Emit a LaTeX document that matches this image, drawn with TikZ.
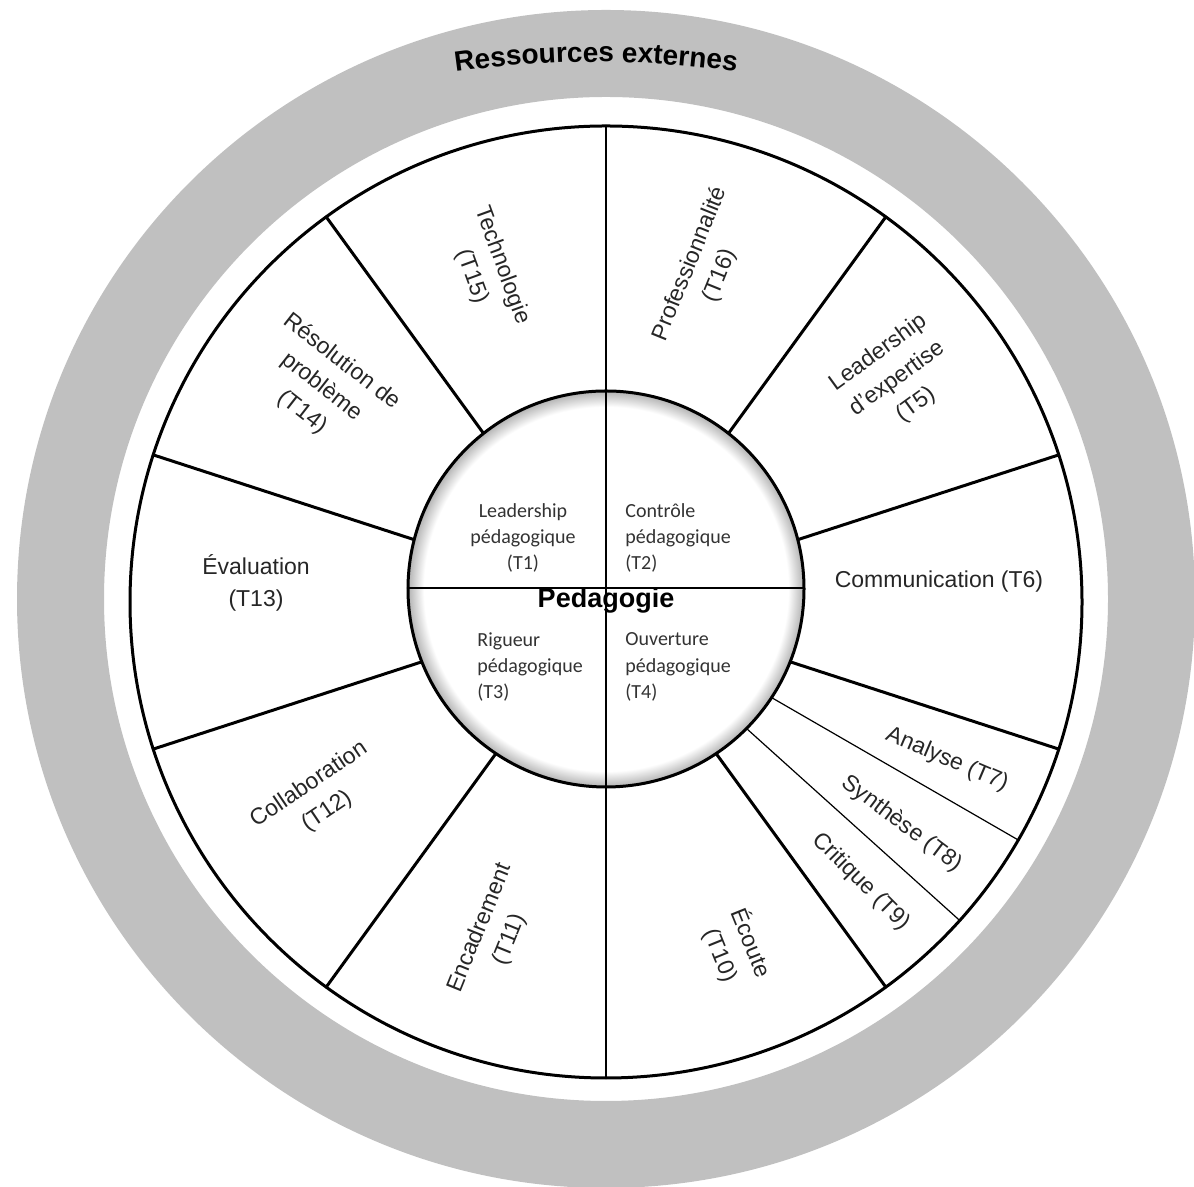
\documentclass[tikz,border=0pt]{standalone}
\usepackage{fontspec}
\setmainfont{Liberation Sans}
\newfontfamily\calibri{Carlito}
\usepackage{tikz}
\usetikzlibrary{decorations.text}
\definecolor{ringgray}{RGB}{192,192,192}
\pgfdeclareradialshading{innershade}{\pgfpoint{0bp}{0bp}}{color(0bp)=(white); color(23bp)=(white); color(25bp)=(black!30); color(50bp)=(black!30)}

\begin{document}
\begin{tikzpicture}[line cap=round,line join=round,x=0.5pt,y=0.5pt,
  theme/.style={font=\fontsize{11.5}{16}\selectfont,text=black!85,align=center,inner sep=0pt},
  subtheme/.style={font=\calibri\fontsize{10}{13.2}\selectfont,text=black!80,inner sep=0pt}]
\useasboundingbox (0,0) rectangle (1194,1187);
\clip(0,0) rectangle (1194,1187);
% ressources externes
\fill [ringgray,even odd rule] (606,588) circle (589) circle (502);
\path [decorate,decoration={text along path,text align=center,text={|\fontsize{14}{16}\selectfont\bfseries|Ressources externes}}] (596,125) ++(99:1000) arc (99:81:1000);
% roue
\coordinate (w) at (606,585);
\draw [line width=1.5pt] (w) circle (476);
\foreach \a in {18,54,126,162,198,234,306,342}
  \draw [line width=1.5pt] (w) -- ++(\a:476);
\foreach \a in {318,330}
  \draw [line width=0.6pt] (w) -- ++(\a:476);
% pedagogie
\coordinate (p) at (606,598);
\shade [shading=innershade] (p) circle (198);
\draw [line width=1.5pt] (p) circle (198);
\draw [line width=1.4pt] (606,109)-- (606,1061);
\draw [line width=1.4pt] (408,599)-- (804,599);
\draw (606,586) node[font=\fontsize{13.5}{16}\selectfont\bfseries,inner sep=0pt] (ped) {Pedagogie};
\draw (523,649) node[subtheme,align=center] (t1) {Leadership\\pédagogique\\(T1)};
\draw (625,649) node[subtheme,align=left,anchor=west] (t2) {Contrôle\\pédagogique\\(T2)};
\draw (477,520) node[subtheme,align=left,anchor=west] (t3) {Rigueur\\pédagogique\\(T3)};
\draw (625,520) node[subtheme,align=left,anchor=west] (t4) {Ouverture\\pédagogique\\(T4)};
% themes
\draw (897,808) node[theme,rotate=36] (t5) {Leadership\\d’expertise\\(T5)};
\draw (939,605) node[theme] (t6) {Communication (T6)};
\draw (947,427) node[theme,rotate=-23] (t7) {Analyse (T7)};
\draw (902,363) node[theme,rotate=-37] (t8) {Synthèse (T8)};
\draw (861,305) node[theme,rotate=-45] (t9) {Critique (T9)};
\draw (736,238) node[theme,rotate=-68] (t10) {Écoute\\(T10)};
\draw (495,253) node[theme,rotate=68] (t11) {Encadrement\\(T11)};
\draw (318,389) node[theme,rotate=34] (t12) {Collaboration\\(T12)};
\draw (256,604) node[theme] (t13) {Évaluation\\(T13)};
\draw (322,800) node[theme,rotate=-38] (t14) {Résolution de\\problème\\(T14)};
\draw (487,916) node[theme,rotate=-70] (t15) {Technologie\\(T15)};
\draw (705,917) node[theme,rotate=68] (t16) {Professionnalité\\(T16)};
\end{tikzpicture}
\end{document}
